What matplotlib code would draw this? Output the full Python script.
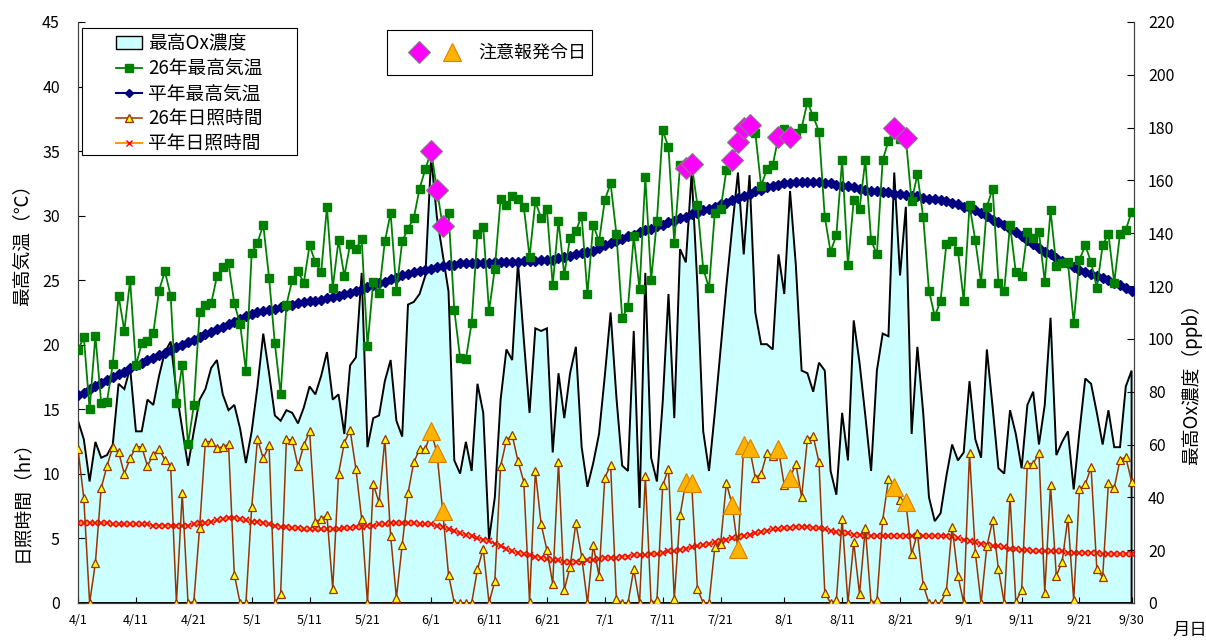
import pandas as pd
import matplotlib
matplotlib.use("Agg")
import matplotlib.pyplot as plt
from matplotlib.lines import Line2D
from matplotlib.patches import Patch, Rectangle
from matplotlib.legend_handler import HandlerTuple

plt.rcParams['font.family'] = ['Noto Sans CJK JP', 'DejaVu Sans']

# daily data, 4/1 - 9/30
days = pd.date_range('2014-04-01', '2014-09-30', freq='D')

temp_26 = [
    19.6, 20.6, 15.0, 20.7, 15.5, 15.6, 18.5, 23.8, 21.1, 25.0,
    18.4, 20.1, 20.3, 20.9, 24.2, 25.7, 23.8, 15.5, 18.4, 12.3,
    15.3, 22.5, 23.1, 23.2, 25.3, 26.0, 26.3, 23.2, 21.6, 18.0,
    27.1, 27.9, 29.3, 25.2, 20.1, 16.2, 23.1, 25.0, 25.7, 24.8,
    27.7, 26.4, 25.6, 30.7, 24.4, 28.1, 25.3, 27.8, 27.4, 28.2,
    19.9, 24.9, 24.0, 28.0, 30.2, 24.2, 28.0, 29.0, 29.8, 32.1,
    33.6, 35.0, 32.0, 29.2, 30.2, 22.7, 19.0, 18.9, 21.7, 28.6,
    29.1, 22.6, 25.9, 31.3, 30.8, 31.5, 31.3, 30.7, 26.8, 31.1,
    29.8, 30.5, 24.6, 29.6, 25.4, 28.3, 28.8, 30.0, 23.9, 29.3,
    28.0, 31.2, 32.5, 28.6, 22.1, 22.9, 28.4, 24.3, 33.0, 25.0,
    29.6, 36.6, 35.3, 27.9, 33.9, 33.7, 34.0, 30.8, 25.9, 24.4,
    30.2, 30.5, 33.5, 34.3, 35.7, 36.8, 37.0, 36.4, 32.3, 33.6,
    33.9, 36.1, 36.7, 36.1, 36.4, 36.8, 38.8, 37.7, 36.5, 29.9,
    27.2, 28.5, 34.3, 26.2, 31.2, 30.5, 34.3, 28.1, 27.0, 34.3,
    35.8, 36.8, 35.9, 36.0, 31.1, 33.2, 29.9, 24.2, 22.2, 23.4,
    27.8, 28.0, 27.3, 23.4, 30.8, 28.1, 24.8, 30.7, 32.1, 24.8,
    24.2, 29.3, 25.6, 25.3, 28.7, 28.3, 28.7, 24.9, 30.4, 26.1,
    26.3, 26.4, 21.7, 26.6, 27.7, 26.4, 24.4, 27.7, 28.6, 24.8,
    28.6, 28.9, 30.3,
]

temp_normal = [
    16.1, 16.3, 16.6, 16.8, 17.0, 17.3, 17.5, 17.7, 17.9, 18.2, 18.4,
    18.6, 18.8, 19.0, 19.2, 19.4, 19.6, 19.8, 20.0, 20.2, 20.4,
    20.6, 20.8, 21.0, 21.2, 21.4, 21.6, 21.8, 22.0, 22.2, 22.4,
    22.5, 22.6, 22.7, 22.8, 22.9, 23.0, 23.1, 23.2, 23.3, 23.4,
    23.4, 23.5, 23.6, 23.7, 23.8, 23.9, 24.0, 24.2, 24.3, 24.5,
    24.6, 24.8, 24.9, 25.1, 25.2, 25.4, 25.5, 25.6, 25.7, 25.8, 25.9,
    26.0, 26.1, 26.2, 26.2, 26.3, 26.3, 26.3, 26.3, 26.3, 26.3, 26.4, 26.4, 26.4, 26.4,
    26.4, 26.5, 26.5, 26.5, 26.6, 26.6, 26.6, 26.7, 26.8, 26.9, 27.0, 27.1, 27.2, 27.3, 27.5,
    27.7, 27.9, 28.0, 28.2, 28.4, 28.5, 28.7, 28.9, 29.0, 29.2,
    29.3, 29.5, 29.6, 29.8, 29.9, 30.1, 30.2, 30.4, 30.5, 30.7,
    30.9, 31.0, 31.2, 31.4, 31.5, 31.7, 31.9, 32.0, 32.2, 32.3,
    32.4, 32.5, 32.5, 32.6, 32.6, 32.6, 32.6, 32.6, 32.5, 32.5,
    32.4, 32.3, 32.3, 32.2, 32.1, 32.0, 31.9, 31.9, 31.8, 31.8,
    31.7, 31.7, 31.6, 31.5, 31.5, 31.4, 31.3, 31.3, 31.2, 31.1,
    31.0, 30.9, 30.7, 30.6, 30.4, 30.2, 30.0, 29.7, 29.5, 29.3,
    29.0, 28.7, 28.4, 28.1, 27.8, 27.5, 27.2, 27.0, 26.7, 26.5,
    26.3, 26.0, 25.8, 25.6, 25.5, 25.3, 25.2, 25.0, 24.8, 24.6, 24.4, 24.2,
]

sun_26 = [
    11.9, 8.1, 0.0, 3.1, 8.9, 10.6, 12.1, 11.7, 10.0, 11.2,
    12.1, 12.1, 10.6, 11.5, 11.9, 11.1, 10.6, 0.0, 8.5, 0.0,
    0.1, 5.8, 12.5, 12.5, 12.0, 12.1, 12.3, 2.2, 0.0, 0.0,
    7.4, 12.7, 11.2, 12.2, 0.0, 0.7, 12.7, 12.6, 10.6, 12.2,
    13.3, 6.3, 6.5, 6.8, 1.1, 10.0, 12.4, 13.4, 10.4, 6.5,
    0.0, 9.2, 7.8, 12.7, 5.2, 0.4, 4.5, 8.5, 10.9, 11.9,
    11.9, 13.3, 11.6, 7.1, 2.2, 0.0, 0.0, 0.0, 0.0, 2.6,
    4.2, 0.0, 1.7, 10.6, 12.6, 13.0, 11.0, 9.4, 0.1, 10.2,
    6.1, 4.1, 1.5, 10.9, 1.0, 2.8, 6.2, 3.6, 0.0, 4.5,
    2.1, 9.7, 10.7, 0.3, 0.0, 0.0, 2.6, 0.0, 9.8, 0.0,
    0.2, 9.1, 10.4, 0.3, 6.8, 9.4, 9.3, 1.1, 0.0, 0.0,
    4.3, 4.6, 9.3, 7.6, 4.2, 12.2, 12.0, 9.7, 10.0, 11.6,
    11.4, 11.9, 9.1, 9.7, 10.8, 8.2, 12.7, 12.9, 10.9, 0.8,
    0.0, 0.2, 6.5, 0.0, 4.7, 0.7, 5.8, 0.0, 0.2, 6.4,
    9.6, 9.0, 8.0, 7.8, 3.8, 5.4, 1.4, 0.0, 0.0, 0.0,
    0.9, 5.9, 2.1, 0.0, 11.6, 3.9, 0.0, 4.4, 6.4, 2.6,
    0.0, 8.2, 0.1, 1.0, 10.8, 10.8, 11.6, 0.8, 9.1, 2.1,
    3.2, 6.6, 0.2, 8.8, 9.2, 10.5, 2.6, 2.0, 9.3, 8.9,
    11.1, 11.3, 9.4,
]

sun_normal = [
    6.2, 6.2, 6.2, 6.2, 6.2, 6.2, 6.1, 6.1, 6.1, 6.1, 6.1,
    6.1, 6.1, 6.0, 6.0, 6.0, 6.0, 6.0, 6.0, 6.0, 6.1,
    6.2, 6.2, 6.3, 6.4, 6.5, 6.6, 6.6, 6.5, 6.4, 6.3,
    6.3, 6.2, 6.1, 6.0, 5.9, 5.9, 5.8, 5.8, 5.7, 5.7,
    5.7, 5.7, 5.7, 5.7, 5.7, 5.8, 5.8, 5.9, 5.9, 6.0,
    6.0, 6.1, 6.1, 6.2, 6.2, 6.2, 6.2, 6.2, 6.1, 6.1, 6.1,
    6.0, 5.9, 5.7, 5.6, 5.4, 5.3, 5.2, 5.0, 4.9, 4.8, 4.6, 4.4, 4.2, 4.0,
    3.9, 3.8, 3.7, 3.6, 3.5, 3.4, 3.3, 3.3, 3.2, 3.2, 3.2, 3.2, 3.3, 3.3, 3.4,
    3.5, 3.5, 3.5, 3.6, 3.6, 3.7, 3.7, 3.7, 3.8, 3.8,
    3.9, 4.0, 4.0, 4.1, 4.2, 4.3, 4.4, 4.5, 4.6, 4.7,
    4.8, 4.9, 5.0, 5.1, 5.2, 5.3, 5.4, 5.5, 5.6, 5.7,
    5.7, 5.8, 5.8, 5.9, 5.9, 5.9, 5.8, 5.8, 5.7, 5.6,
    5.5, 5.4, 5.4, 5.3, 5.3, 5.2, 5.2, 5.2, 5.2, 5.2,
    5.2, 5.2, 5.2, 5.2, 5.2, 5.2, 5.2, 5.2, 5.2, 5.2,
    5.1, 5.0, 4.9, 4.8, 4.7, 4.6, 4.5, 4.4, 4.4, 4.3,
    4.2, 4.2, 4.1, 4.1, 4.0, 4.0, 4.0, 4.0, 4.0, 4.0,
    3.9, 3.9, 3.9, 3.9, 3.9, 3.9, 3.8, 3.8, 3.8, 3.8, 3.8, 3.8,
]

ox_max = [
    69, 62, 46, 61, 55, 56, 60, 83, 81, 89,
    65, 65, 77, 75, 86, 95, 99, 80, 66, 52,
    65, 77, 81, 89, 92, 79, 73, 75, 66, 53,
    65, 82, 102, 87, 71, 69, 73, 72, 68, 74,
    82, 79, 86, 95, 77, 79, 64, 90, 93, 125,
    59, 70, 71, 84, 92, 69, 63, 113, 114, 117,
    124, 169, 146, 132, 118, 54, 49, 61, 50, 83,
    72, 24, 40, 77, 96, 92, 129, 100, 72, 104,
    103, 104, 57, 87, 70, 87, 97, 59, 44, 53,
    64, 86, 110, 78, 52, 50, 103, 36, 125, 55,
    46, 76, 117, 70, 134, 129, 163, 120, 65, 50,
    72, 96, 120, 142, 163, 132, 162, 110, 98, 98,
    96, 132, 117, 156, 128, 88, 87, 80, 91, 88,
    50, 41, 72, 54, 107, 91, 71, 50, 88, 102,
    101, 163, 124, 150, 64, 97, 72, 40, 31, 34,
    48, 60, 54, 57, 84, 62, 55, 96, 74, 51,
    49, 73, 64, 51, 75, 80, 60, 75, 108, 56,
    61, 65, 43, 65, 85, 83, 72, 60, 73, 59,
    59, 82, 88,
]

# 注意報発令日
alert_days = ['2014-06-01', '2014-06-02', '2014-06-03', '2014-07-15', '2014-07-16',
              '2014-07-23', '2014-07-24', '2014-07-25', '2014-07-26', '2014-07-31',
              '2014-08-02', '2014-08-20', '2014-08-22']

tick_dates = ['2014-04-01', '2014-04-11', '2014-04-21', '2014-05-01', '2014-05-11',
              '2014-05-21', '2014-06-01', '2014-06-11', '2014-06-21', '2014-07-01',
              '2014-07-11', '2014-07-21', '2014-08-01', '2014-08-11', '2014-08-21',
              '2014-09-01', '2014-09-11', '2014-09-21', '2014-09-30']
tick_labels = ['4/1', '4/11', '4/21', '5/1', '5/11', '5/21', '6/1', '6/11', '6/21',
               '7/1', '7/11', '7/21', '8/1', '8/11', '8/21', '9/1', '9/11', '9/21', '9/30']

df = pd.DataFrame({'temp': temp_26, 'temp_n': temp_normal, 'sun': sun_26,
                   'sun_n': sun_normal, 'ox': ox_max}, index=days)
alert = df.loc[pd.to_datetime(alert_days)]

fig = plt.figure(figsize=(12.06, 6.41), dpi=100)
ax = fig.add_axes([0.0647, 0.0593, 0.8756, 0.9064])
ax2 = ax.twinx()
ax.set_zorder(ax2.get_zorder() + 1)
ax.patch.set_visible(False)

# Ox area (right axis)
xs = [days[0]] + list(days) + [days[-1]]
ys = [0] + ox_max + [0]
ax2.fill(xs, ys, facecolor='#CCFFFF', edgecolor='black', linewidth=1.4, zorder=1)

# left axis lines
ax.plot(df.index, df['sun_n'], color='#FF9900', lw=1.4, marker='x', ms=5,
        mec='#FF0000', mew=1.2, zorder=3)
ax.plot(df.index, df['sun'], color='#993300', lw=1.1, marker='^', ms=6,
        mfc='#FFFF00', mec='#993300', mew=0.9, zorder=4)
ax.plot(df.index, df['temp_n'], color='#000080', lw=1.5, marker='D', ms=4.8,
        mfc='#000080', mec='#000080', zorder=5)
ax.plot(df.index, df['temp'], color='#008000', lw=1.3, marker='s', ms=5.5,
        mfc='#008000', mec='#008000', zorder=6)
tri = ax.plot(alert.index, alert['sun'], ls='none', marker='^', ms=13,
              mfc='#FFB300', mec='#D98000', mew=0.8, zorder=7)[0]
dia = ax.plot(alert.index, alert['temp'], ls='none', marker='D', ms=11,
              mfc='#FF00FF', mec='#808080', mew=0.8, zorder=8)[0]

ax.set_ylim(0, 45)
ax.set_yticks(range(0, 46, 5))
ax2.set_ylim(0, 220)
ax2.set_yticks(range(0, 221, 20))
ax.set_xlim(days[0], days[-1] + pd.Timedelta(hours=10))
ax.set_xticks(pd.to_datetime(tick_dates))
ax.set_xticklabels(tick_labels)

ax.tick_params(axis='y', direction='in', length=5, labelsize=11.5, pad=13)
ax2.tick_params(axis='y', direction='in', length=5, labelsize=11.5, pad=10)
ax.tick_params(axis='x', direction='in', length=4, labelsize=9, pad=8)
for a in (ax, ax2):
    a.spines['top'].set_visible(False)
    for s in ('left', 'right', 'bottom'):
        a.spines[s].set_color('#404040')

# axis titles
fig.text(0.018, 0.625, '最高気温（℃）', rotation=90, ha='center', va='center', fontsize=13.5)
fig.text(0.018, 0.225, '日照時間（hr）', rotation=90, ha='center', va='center', fontsize=13.5)
fig.text(0.988, 0.407, '最高Ox濃度（ppb）', rotation=90, ha='center', va='center', fontsize=13.5)
fig.text(0.987, 0.004, '月日', ha='center', va='bottom', fontsize=12.5)

# legend boxes
for x0, y0, x1, y1 in [(0.0038, 0.771, 0.2076, 0.9897), (0.2929, 0.9088, 0.4863, 0.9862)]:
    ax.add_patch(Rectangle((x0, y0), x1 - x0, y1 - y0, transform=ax.transAxes,
                           facecolor='white', edgecolor='black', lw=0.8, zorder=19))

handles = [
    Patch(facecolor='#CCFFFF', edgecolor='black', linewidth=1),
    Line2D([], [], color='#008000', lw=1.3, marker='s', ms=5.5),
    Line2D([], [], color='#000080', lw=1.5, marker='D', ms=4.5),
    Line2D([], [], color='#993300', lw=1.1, marker='^', ms=6, mfc='#FFFF00', mec='#993300'),
    Line2D([], [], color='#FF9900', lw=1.4, marker='x', ms=5, mec='#FF0000'),
]
labels = ['最高Ox濃度', '26年最高気温', '平年最高気温', '26年日照時間', '平年日照時間']
leg1 = ax.legend(handles, labels, loc='upper left', bbox_to_anchor=(0.036, 0.981),
                 borderaxespad=0, borderpad=0, fontsize=13.5, frameon=False,
                 handlelength=1.4, labelspacing=0.22, handletextpad=0.32)
leg1.set_zorder(20)
ax.add_artist(leg1)

leg2 = ax.legend([(dia, tri)], ['注意報発令日'], loc='center left',
                 bbox_to_anchor=(0.3118, 0.9466), borderaxespad=0, borderpad=0,
                 fontsize=13, frameon=False,
                 handler_map={tuple: HandlerTuple(ndivide=None, pad=0.5)},
                 handlelength=3.17, handletextpad=0.75)
leg2.set_zorder(20)

fig.savefig('out.png', dpi=100)
